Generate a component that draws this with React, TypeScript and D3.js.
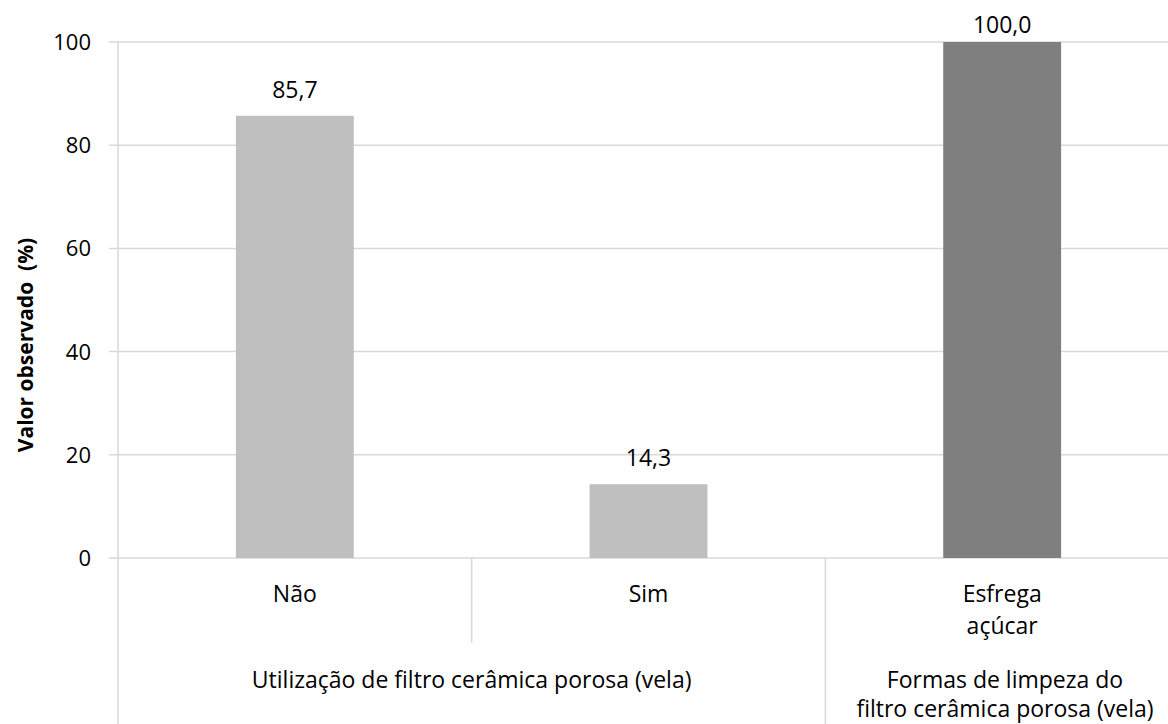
import React from "react";
import * as d3 from "d3";

const categories = ["Não", "Sim", "Esfrega\naçúcar"];
const values = [85.7, 14.3, 100.0];
const colors = ["#bfbfbf", "#bfbfbf", "#7f7f7f"];
const groupLabels = ["Utilização de filtro cerâmica porosa (vela)", "Formas de limpeza do\nfiltro cerâmica porosa (vela)"];
const groupSpans = [[0, 2], [2, 3]];
const yTicks = [0, 20, 40, 60, 80, 100];
const yTitle = "Valor observado  (%)";

const W = 1168, H = 724;
const left = 118, right = 1179, top = 42, bottom = 558;
const font = "'Open Sans', sans-serif";
const fs = 23;

export default function App() {
  const x = d3.scaleBand<number>().domain(d3.range(categories.length)).range([left, right]);
  const y = d3.scaleLinear().domain([0, 100]).range([bottom, top]);
  const bw = x.bandwidth();
  const barW = bw / 3;
  return (
    <svg width={W} height={H} style={{ position: "absolute", left: 0, top: 0 }} fontFamily={font}>
      <rect width={W} height={H} fill="#fff" />
      {yTicks.map((t) => (
        <g key={t}>
          <line x1={left - 9} x2={right} y1={y(t)} y2={y(t)} stroke="#d9d9d9" strokeWidth={1.5} />
          <text x={91} y={y(t)} dy="0.36em" textAnchor="end" fontSize={22} fill="#000">{t}</text>
        </g>
      ))}
      <line x1={left} x2={left} y1={top} y2={H} stroke="#d9d9d9" strokeWidth={1.5} />
      {values.map((v, i) => {
        const cx = (x(i) as number) + bw / 2;
        const ly = Math.max(y(v) - 18, 33);
        return (
          <g key={i}>
            <rect x={cx - barW / 2} y={y(v)} width={barW} height={y(0) - y(v)} fill={colors[i]} />
            <text x={cx} y={ly} textAnchor="middle" fontSize={fs} fill="#000">{v.toFixed(1).replace(".", ",")}</text>
            {categories[i].split("\n").map((s, k) => (
              <text key={k} x={cx} y={594 + k * 32} dy="0.36em" textAnchor="middle" fontSize={fs} fill="#000">{s}</text>
            ))}
          </g>
        );
      })}
      <line x1={x(1) as number} x2={x(1) as number} y1={bottom} y2={643} stroke="#d9d9d9" strokeWidth={1.5} />
      <line x1={x(2) as number} x2={x(2) as number} y1={bottom} y2={H} stroke="#d9d9d9" strokeWidth={1.5} />
      {groupLabels.map((g, gi) => {
        const x0 = x(groupSpans[gi][0]) as number;
        const x1 = (x(groupSpans[gi][1] - 1) as number) + bw;
        const cx = gi === 0 ? (x0 + x1) / 2 : 1005;
        return g.split("\n").map((s, k) => (
          <text key={gi + "-" + k} x={cx} y={680 + k * 29} dy="0.36em" textAnchor="middle" fontSize={fs} fill="#000">{s}</text>
        ));
      })}
      <text transform={`translate(25,345) rotate(-90)`} textAnchor="middle" dy="0.36em" fontSize={21} fontWeight="bold" fill="#000" style={{ whiteSpace: "pre" }}>{yTitle}</text>
    </svg>
  );
}
